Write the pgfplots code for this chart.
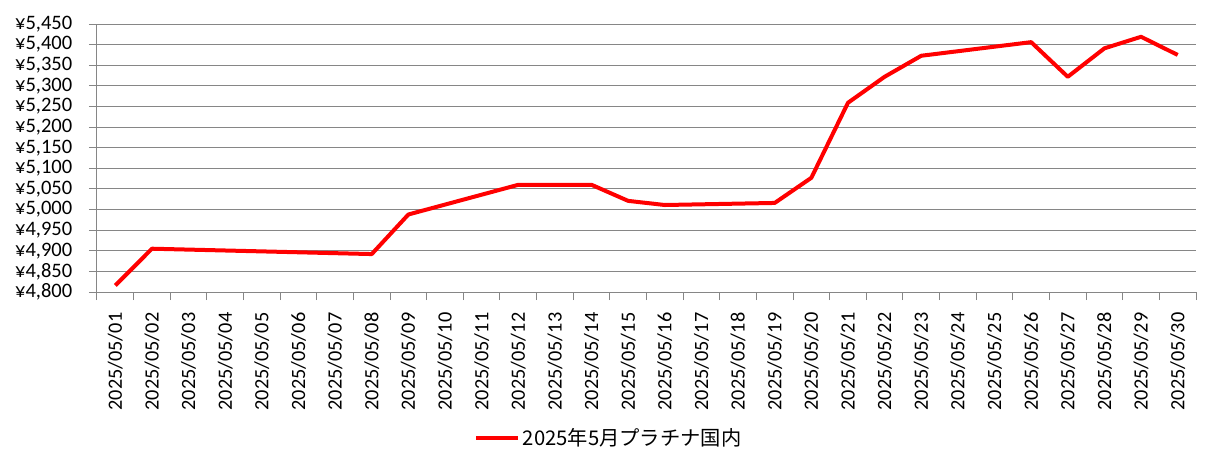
\documentclass[border=0pt]{standalone}
\usepackage{fontspec}
\setmainfont{Carlito}
\newfontfamily\cjk{Noto Sans CJK JP}
\usepackage{pgfplots}
\pgfplotsset{compat=1.18}
\definecolor{gridgray}{HTML}{868686}
\begin{document}
\begin{tikzpicture}
\useasboundingbox (-72.75pt,-134.25pt) rectangle (843pt,219pt);
\begin{axis}[
  scale only axis, width=824.25pt, height=201pt,
  xmin=0.5, xmax=30.5, ymin=4800, ymax=5450,
  ytick={4800,4850,...,5450},
  xtick={1,...,30},
  minor xtick={0.5,1.5,...,30.5},
  xticklabels={2025/05/01,2025/05/02,2025/05/03,2025/05/04,2025/05/05,2025/05/06,2025/05/07,2025/05/08,2025/05/09,2025/05/10,2025/05/11,2025/05/12,2025/05/13,2025/05/14,2025/05/15,2025/05/16,2025/05/17,2025/05/18,2025/05/19,2025/05/20,2025/05/21,2025/05/22,2025/05/23,2025/05/24,2025/05/25,2025/05/26,2025/05/27,2025/05/28,2025/05/29,2025/05/30},
  axis lines*=left,
  axis line style={gridgray, line width=0.75pt},
  ymajorgrids, major grid style={gridgray, line width=0.75pt},
  tick align=outside,
  major tick length=6pt, minor tick length=6pt,
  major x tick style={draw=none},
  minor x tick style={gridgray, line width=0.75pt},
  ytick style={gridgray, line width=0.75pt},
  /pgf/number format/.cd, 1000 sep={,}, assume math mode=true,
  /pgfplots/.cd,
  yticklabel={¥\pgfmathprintnumber{\tick}},
  yticklabel style={font=\fontsize{15.4}{17}\selectfont, black, xshift=-9pt},
  xticklabel style={rotate=90, anchor=east, font=\fontsize{15.2}{17}\selectfont, black, xshift=-6pt},
  legend style={at={(0.466,-0.545)}, anchor=center, draw=none, fill=none,
    font=\fontsize{15.2}{17}\selectfont\cjk},
  legend image code/.code={\draw[#1] (0pt,0pt) -- (31.5pt,0pt);},
]
\addplot[red, line width=3pt, line join=round] table[x=d, y=v] {
d v
1 4816
2 4905
3 nan
4 nan
5 nan
6 nan
7 nan
8 4892
9 4988
10 nan
11 nan
12 5060
13 5060
14 5060
15 5021
16 5011
17 nan
18 nan
19 5016
20 5077
21 5259
22 5322
23 5373
24 nan
25 nan
26 5406
27 5322
28 5391
29 5419
30 5375
};
\addlegendentry{2025年5月プラチナ国内}
\end{axis}
\end{tikzpicture}
\end{document}
